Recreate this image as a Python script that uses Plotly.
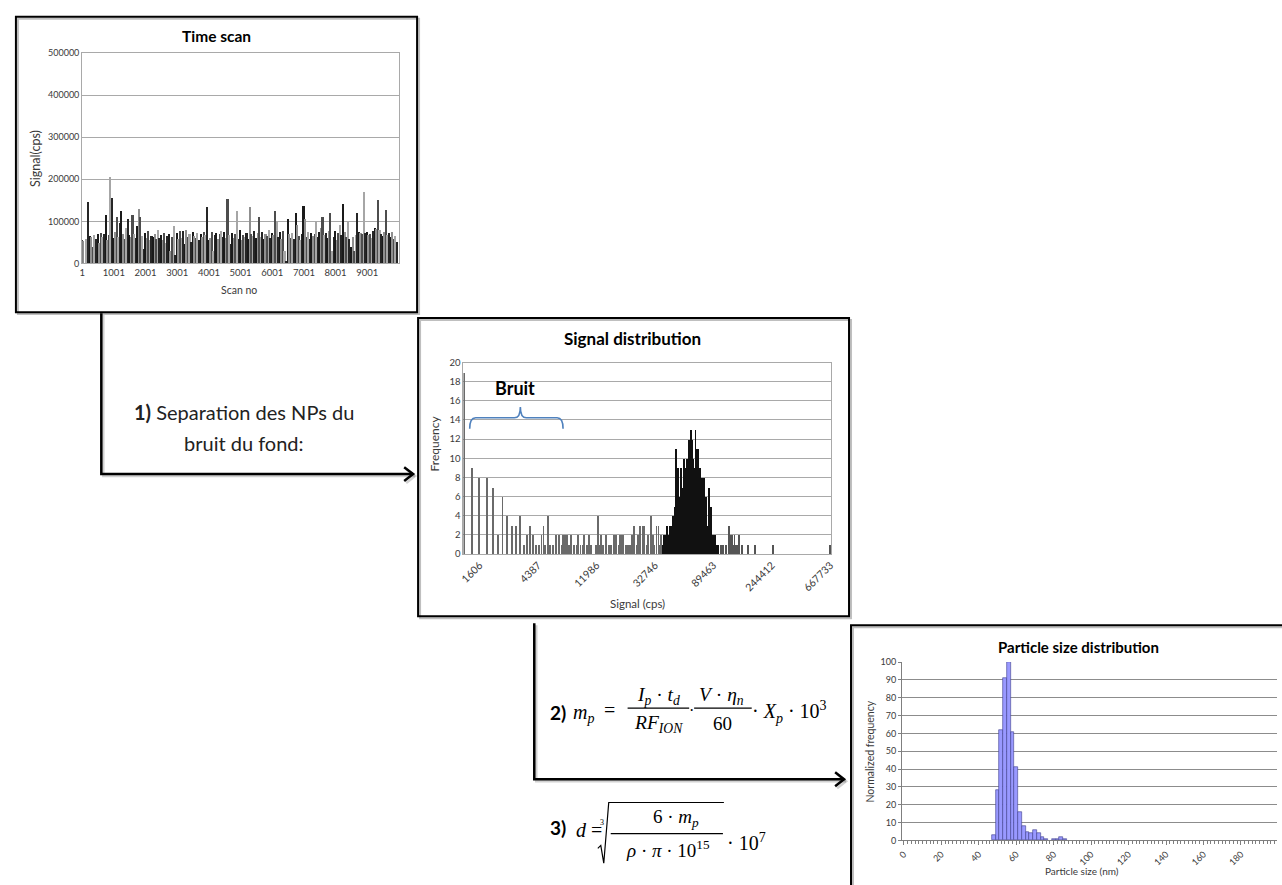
import plotly.graph_objects as go

# ------------------------------------------------------------------ data
# Time scan (one bar every 50 scans, cps)
scan_values = [
    55000, 52000, 0, 58000, 147000, 65000, 62000, 40000, 68000, 58000,
    70000, 48000, 72000, 62000, 70000, 115000, 55000, 68000, 205000, 155000,
    60000, 75000, 110000, 62000, 95000, 125000, 70000, 58000, 85000, 105000,
    68000, 62000, 115000, 70000, 60000, 88000, 130000, 110000, 65000, 35000,
    72000, 60000, 78000, 55000, 65000, 62000, 70000, 58000, 80000, 60000,
    68000, 55000, 72000, 48000, 66000, 70000, 30000, 62000, 88000, 20000,
    72000, 58000, 76000, 60000, 78000, 45000, 80000, 62000, 70000, 50000,
    74000, 65000, 60000, 72000, 55000, 70000, 62000, 75000, 68000, 135000,
    55000, 60000, 75000, 30000, 68000, 72000, 58000, 70000, 78000, 62000,
    75000, 60000, 152000, 68000, 45000, 72000, 60000, 70000, 125000, 58000,
    80000, 55000, 68000, 62000, 72000, 58000, 133000, 70000, 65000, 78000,
    60000, 72000, 110000, 62000, 75000, 58000, 70000, 65000, 80000, 60000,
    72000, 68000, 125000, 100000, 62000, 75000, 58000, 78000, 30000, 5000,
    105000, 70000, 60000, 72000, 58000, 120000, 92000, 65000, 55000, 70000,
    137000, 105000, 62000, 75000, 58000, 72000, 66000, 70000, 100000, 62000,
    75000, 85000, 110000, 68000, 72000, 60000, 76000, 120000, 30000, 62000,
    78000, 55000, 72000, 90000, 68000, 140000, 75000, 62000, 98000, 58000,
    40000, 62000, 30000, 68000, 120000, 75000, 72000, 70000, 170000, 72000,
    75000, 68000, 70000, 60000, 78000, 85000, 82000, 150000, 80000, 70000,
    65000, 75000, 128000, 68000, 72000, 62000, 75000, 58000, 65000, 50000,
]
scan_no = [1 + 50 * i for i in range(len(scan_values))]
scan_ticks = [1, 1001, 2001, 3001, 4001, 5001, 6001, 7001, 8001, 9001]
scan_yticks = [0, 100000, 200000, 300000, 400000, 500000]

# Signal distribution (log-spaced bins, index of bin -> frequency)
sig_bin_noise = [0, 9, 16, 24, 30, 35, 40, 45, 50, 54,
                 58, 62, 65, 68, 71, 74, 77, 80, 82, 84,
                 87, 89, 92, 95, 98, 101, 102, 104, 106, 108,
                 110, 113, 116, 117, 120, 122, 124, 127, 129, 131,
                 136, 138, 139, 141, 143, 146, 149, 150, 151, 154,
                 155, 157, 159, 160, 162, 164, 167, 168, 170, 172,
                 173, 175, 178, 179, 181, 184, 185, 188, 189, 192,
                 194, 196, 198, 200, 202, 203]
sig_freq_noise = [19, 9, 8, 8, 7, 2, 6, 4, 3, 3,
                  4, 1, 2, 3, 2, 1, 1, 2, 3, 1,
                  4, 1, 1, 2, 2, 1, 2, 2, 2, 1,
                  2, 1, 1, 2, 1, 1, 2, 1, 2, 1,
                  1, 4, 1, 2, 1, 2, 1, 1, 1, 2,
                  2, 2, 1, 2, 2, 2, 1, 1, 1, 1,
                  2, 3, 1, 2, 3, 3, 3, 1, 2, 4,
                  2, 1, 3, 3, 1, 2]
sig_bin_peak = [205, 206, 207, 208, 209, 210, 211, 212, 213, 214,
                215, 216, 217, 218, 219, 220, 221, 222, 223, 224,
                225, 226, 227, 228, 229, 230, 231, 232, 233, 234,
                235, 236, 237, 238, 239, 240, 241, 242, 243, 244,
                245, 246, 247, 248, 249, 250, 251, 252, 253, 254,
                255, 256, 257, 258, 259, 261]
sig_freq_peak = [1, 2, 1, 2, 3, 1, 2, 3, 2, 3,
                 4, 3, 5, 11, 4, 9, 5, 6, 9, 6,
                 7, 10, 7, 9, 10, 8, 12, 9, 13, 12,
                 9, 10, 9, 13, 11, 8, 11, 7, 9, 5,
                 8, 4, 8, 3, 6, 2, 3, 7, 2, 5,
                 1, 2, 1, 2, 1, 1]
sig_bin_tail = [264, 266, 269, 272, 273, 274, 275, 276, 277, 278,
                280, 281, 283, 286, 292, 299, 318, 376]
sig_freq_tail = [1, 1, 1, 3, 1, 2, 2, 2, 1, 2,
                 1, 1, 2, 1, 1, 1, 1, 1]
sig_tick_bin = [16, 76, 136, 196, 256, 316, 376]
sig_tick_text = ["1606", "4387", "11986", "32746", "89463", "244412", "667733"]

# Particle size distribution (nm -> normalized frequency)
size_nm = [48, 50, 52, 54, 56, 58, 60, 62, 64, 66,
           68, 70, 72, 74, 76, 80, 82, 84, 86]
size_freq = [3, 28, 62, 91, 100, 61, 41, 16, 8, 5,
             4, 6, 4, 2, 1, 1, 1, 2, 1]
size_ticks = [0, 20, 40, 60, 80, 100, 120, 140, 160, 180]

# ------------------------------------------------------------------ helpers
W, H = 1282, 885


def px(x):
    return x / W


def py(y):
    return 1 - y / H


SANS = "Lato, 'Open Sans', sans-serif"
SERIF = "'Liberation Serif', 'DejaVu Serif', serif"
GRID = "#a9a9a9"
TXT = "#3a3a3a"

annotations = []
shapes = []


def text(x, y, s, size, family=SANS, color="black", xanchor="center",
         yanchor="middle", angle=0):
    annotations.append(dict(
        x=px(x), y=py(y), xref="paper", yref="paper", text=s,
        showarrow=False, xanchor=xanchor, yanchor=yanchor, textangle=angle,
        borderpad=0, font=dict(size=size, family=family, color=color)))


def line(x0, y0, x1, y1, width=2.5, color="black"):
    shapes.append(dict(type="line", xref="paper", yref="paper",
                       x0=px(x0), y0=py(y0), x1=px(x1), y1=py(y1),
                       line=dict(color=color, width=width)))


def path(points, width=2.5, color="black"):
    d = "M " + " L ".join(f"{px(a):.5f},{py(b):.5f}" for a, b in points)
    shapes.append(dict(type="path", xref="paper", yref="paper", path=d,
                       line=dict(color=color, width=width)))


def rect(x0, y0, x1, y1, width=2):
    shapes.append(dict(type="rect", xref="paper", yref="paper",
                       x0=px(x0 + 2), y0=py(y0 + 2), x1=px(x1 + 2), y1=py(y1 + 2),
                       line=dict(color="rgba(0,0,0,0.25)", width=width)))
    shapes.append(dict(type="rect", xref="paper", yref="paper",
                       x0=px(x0), y0=py(y0), x1=px(x1), y1=py(y1),
                       line=dict(color="black", width=width)))


# ------------------------------------------------------------------ traces
shade = ["#1a1a1a", "#8f8f8f", "#4d4d4d", "#a6a6a6", "#262626"]
scan_colors = [shade[i % 5] for i in range(len(scan_values))]

fig = go.Figure()
fig.add_trace(go.Bar(x=scan_no, y=scan_values, width=50, xaxis="x", yaxis="y",
                     marker=dict(color=scan_colors, line=dict(width=0))))
fig.add_trace(go.Bar(x=sig_bin_noise, y=sig_freq_noise,
                     width=0.9, xaxis="x2", yaxis="y2",
                     marker=dict(color="#6a6a6a", line=dict(width=0))))
fig.add_trace(go.Bar(x=sig_bin_peak, y=sig_freq_peak,
                     width=0.95, xaxis="x2", yaxis="y2",
                     marker=dict(color="#111111", line=dict(width=0))))
fig.add_trace(go.Bar(x=sig_bin_tail, y=sig_freq_tail,
                     width=0.9, xaxis="x2", yaxis="y2",
                     marker=dict(color="#555555", line=dict(width=0))))
fig.add_trace(go.Bar(x=size_nm, y=size_freq, width=2, xaxis="x3", yaxis="y3",
                     marker=dict(color="#9999FF", line=dict(color="#3c3c8c", width=0.6))))

# ------------------------------------------------------------------ panels / frames
rect(11, 11, 415, 310)
rect(416, 316, 850, 618)
rect(852, 627, 1300, 900)

# titles and axis titles
text(213, 30, "<b>Time scan</b>", 15.5)
text(30, 154, "Signal(cps)", 12.5, angle=-90, color=TXT)
text(236, 288, "Scan no", 10.5, color=TXT)

text(632, 337, "<b>Signal distribution</b>", 17)
text(433, 443, "Frequency", 12, angle=-90, color=TXT)
text(637, 605, "Signal (cps)", 11.5, color=TXT)

text(1081, 649, "<b>Particle size distribution</b>", 15)
text(871, 755, "Normalized frequency", 10.5, angle=-90, color=TXT)
text(1085, 876, "Particle size (nm)", 10, color=TXT)

# "Bruit" brace
text(514, 387, "<b>Bruit</b>", 18)
shapes.append(dict(type="path", xref="paper", yref="paper", line=dict(color="#4F81BD", width=1.6),
                   path=(f"M {px(468):.5f},{py(428):.5f} Q {px(468):.5f},{py(417):.5f} {px(474):.5f},{py(417):.5f} "
                         f"L {px(513):.5f},{py(417):.5f} Q {px(519):.5f},{py(417):.5f} {px(519):.5f},{py(406):.5f} "
                         f"Q {px(519):.5f},{py(417):.5f} {px(525):.5f},{py(417):.5f} "
                         f"L {px(556):.5f},{py(417):.5f} Q {px(562):.5f},{py(417):.5f} {px(562):.5f},{py(428):.5f}")))

# ------------------------------------------------------------------ arrows
for dx, dy, col in [(2, 2, "rgba(0,0,0,0.18)"), (0, 0, "black")]:
    path([(97 + dx, 311 + dy), (97 + dx, 474 + dy), (411 + dx, 474 + dy)], color=col)
    path([(402 + dx, 467 + dy), (411 + dx, 474 + dy), (402 + dx, 481 + dy)], color=col)
    path([(533 + dx, 625 + dy), (533 + dx, 783 + dy), (845 + dx, 783 + dy)], color=col)
    path([(836 + dx, 776 + dy), (845 + dx, 783 + dy), (836 + dx, 790 + dy)], color=col)

# step 1 text
text(241, 411, "<b>1)</b> Separation des NPs du", 20, color="#222222")
text(241, 442, "bruit du fond:", 20, color="#222222")

# step 2 equation
EQ = 20
text(548, 715, "<b>2)</b>", 19, xanchor="left")
text(571, 716, "<i>m</i><sub><i>p</i></sub>", EQ, family=SERIF, xanchor="left")
text(609, 713, "=", EQ, family=SERIF)
text(658, 699, "<i>I</i><sub><i>p</i></sub> · <i>t</i><sub><i>d</i></sub>", 19.5, family=SERIF)
line(627, 711, 689, 711, width=1.2)
text(658, 727, "<i>RF</i><sub><i>ION</i></sub>", 19.5, family=SERIF)
text(691, 713, "·", 16, family=SERIF)
text(722, 699, "<i>V</i> · <i>η</i><sub><i>n</i></sub>", 19.5, family=SERIF)
line(694, 711, 752, 711, width=1.2)
text(723, 727, "60", 19, family=SERIF)
text(751, 715, "· <i>X</i><sub><i>p</i></sub> · 10<sup>3</sup>", EQ, family=SERIF, xanchor="left")

# step 3 equation
text(548, 832, "<b>3)</b>", 19, xanchor="left")
text(574, 834, "<i>d</i> =", EQ, family=SERIF, xanchor="left")
text(601, 827, "3", 8, family=SERIF)
path([(597, 853), (600, 850), (603, 868), (608, 806.5), (724, 806.5)], width=1.2)
text(676, 822, "6 · <i>m</i><sub><i>p</i></sub>", 19, family=SERIF)
line(610, 838, 723, 838, width=1.2)
text(668, 854, "<i>ρ</i> · <i>π</i> · 10<sup>15</sup>", 19, family=SERIF)
text(726, 847, "· 10<sup>7</sup>", EQ, family=SERIF, xanchor="left")

# ------------------------------------------------------------------ layout
fig.update_layout(
    width=W, height=H, margin=dict(l=0, r=0, t=0, b=0),
    paper_bgcolor="white", plot_bgcolor="white", showlegend=False,
    bargap=0, barmode="overlay",
    xaxis=dict(domain=[px(77.7), px(396.7)], anchor="y", range=[0, 10000],
               tickmode="array", tickvals=scan_ticks, ticktext=[str(v) for v in scan_ticks],
               ticks="", showgrid=False, zeroline=False, showline=True, mirror=True,
               linecolor=GRID, tickfont=dict(size=9.5, family=SANS, color=TXT)),
    yaxis=dict(domain=[py(260.7), py(47.7)], anchor="x", range=[0, 500000],
               tickmode="array", tickvals=scan_yticks, ticktext=[str(v) for v in scan_yticks],
               ticks="", showgrid=True, gridcolor=GRID, zeroline=False,
               showline=True, mirror=True, linecolor=GRID,
               tickfont=dict(size=9, family=SANS, color=TXT)),
    xaxis2=dict(domain=[px(461.7), px(832)], anchor="y2", range=[-0.6, 376.8],
                tickmode="array", tickvals=sig_tick_bin, ticktext=sig_tick_text,
                tickangle=-45, ticks="", showgrid=False, zeroline=False,
                showline=True, mirror=True, linecolor=GRID,
                tickfont=dict(size=10.5, family=SANS, color=TXT)),
    yaxis2=dict(domain=[py(555), py(361)], anchor="x2", range=[0, 20], dtick=2,
                ticks="", showgrid=True, gridcolor=GRID, zeroline=False,
                showline=True, mirror=True, linecolor=GRID,
                tickfont=dict(size=9.5, family=SANS, color=TXT)),
    xaxis3=dict(domain=[px(903.3), px(1280.5)], anchor="y3", range=[-1, 199],
                tickmode="array", tickvals=size_ticks, ticktext=[str(v) for v in size_ticks],
                tickangle=-45, ticks="outside", ticklen=4, tickcolor="#7f7f7f",
                minor=dict(ticks="outside", dtick=2, tick0=0, ticklen=3, tickcolor="#7f7f7f"),
                showgrid=False, zeroline=False, showline=True, linecolor="#7f7f7f",
                tickfont=dict(size=9, family=SANS, color=TXT)),
    yaxis3=dict(domain=[py(845), py(664.3)], anchor="x3", range=[0, 100], dtick=10,
                ticks="outside", ticklen=3, tickcolor="#7f7f7f",
                showgrid=True, gridcolor="#8c8c8c", zeroline=False,
                showline=True, linecolor="#7f7f7f",
                tickfont=dict(size=9, family=SANS, color=TXT)),
    annotations=annotations, shapes=shapes,
)

fig.write_html("out.html", config={"displayModeBar": False},
               post_script="document.body.style.margin='0';document.body.style.overflow='hidden';")
